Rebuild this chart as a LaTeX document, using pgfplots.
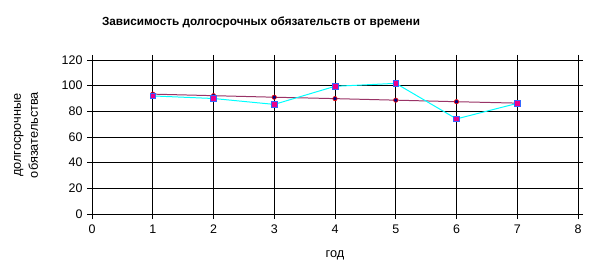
\documentclass[border=0pt]{standalone}
\usepackage{pgfplots}
\pgfplotsset{compat=1.18}
\usepackage{fontspec}
\setmainfont{Liberation Sans}
\definecolor{trendc}{HTML}{993366}
\definecolor{navyc}{HTML}{000080}
\definecolor{sqedge}{HTML}{3366FF}
\definecolor{cyanline}{HTML}{00FFFF}
\begin{document}
\begin{tikzpicture}[x=1bp,y=1bp]
\useasboundingbox (0,0) rectangle (590,272);
\begin{axis}[
  at={(92bp,58bp)}, anchor=south west,
  scale only axis, width=486bp, height=154bp,
  xmin=0, xmax=8, ymin=0, ymax=120,
  xtick={0,...,8}, ytick={0,20,...,120},
  grid=major, major grid style={black, line width=0.8pt},
  axis line style={black, line width=0.8pt},
  tick style={black, line width=0.8pt},
  tick align=outside, major tick length=5bp,
  ticklabel style={font=\fontsize{12.5}{14}\selectfont},
  yticklabel style={xshift=-1bp},
  xticklabel style={yshift=-2bp},
  /pgf/number format/assume math mode=true,
  clip=false,
]
\addplot[trendc, line width=1pt, mark=*, mark size=2.2bp,
  mark options={fill=navyc, draw=red, line width=0.6pt}]
  coordinates {(1,93.4) (2,92.2) (3,91.0) (4,89.9) (5,88.7) (6,87.5) (7,86.4)};
\addplot[cyanline, line width=1pt, mark=square*, mark size=2.8bp,
  mark options={fill=magenta, draw=sqedge, line width=0.6pt}]
  coordinates {(1,92) (2,90) (3,85.4) (4,99.5) (5,101.8) (6,74.1) (7,86.2)};
\end{axis}
\node[font=\bfseries\fontsize{11.8}{13}\selectfont] at (261,250) {Зависимость долгосрочных обязательств от времени};
\node[rotate=90, align=center, font=\fontsize{12.8}{17}\selectfont] at (26,137) {долгосрочные\\обязательства};
\node[font=\fontsize{12.8}{14}\selectfont] at (335,17) {год};
\end{tikzpicture}
\end{document}
